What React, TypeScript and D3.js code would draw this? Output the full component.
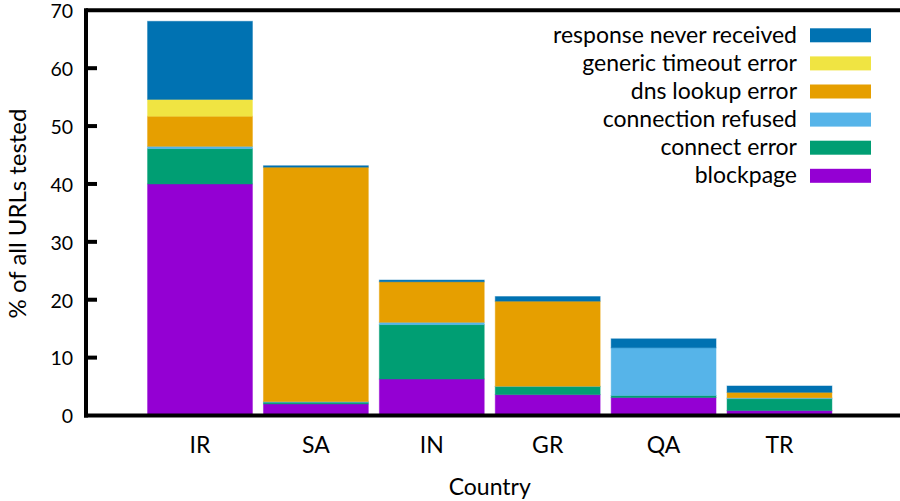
import React from "react";
import * as d3 from "d3";

const countries = ["IR", "SA", "IN", "GR", "QA", "TR"];
const seriesNames = [
  "blockpage",
  "connect error",
  "connection refused",
  "dns lookup error",
  "generic timeout error",
  "response never received",
];
const seriesColors = ["#9400d3", "#009e73", "#56b4e9", "#e69f00", "#f0e442", "#0072b2"];
const blockpage = [40.0, 2.0, 6.3, 3.6, 3.1, 0.85];
const connectError = [6.1, 0.3, 9.4, 1.4, 0.35, 2.05];
const connectionRefused = [0.4, 0.1, 0.4, 0.05, 8.25, 0.15];
const dnsLookupError = [5.2, 40.5, 7.0, 14.7, 0, 0.95];
const genericTimeout = [2.9, 0, 0, 0, 0, 0];
const responseNeverReceived = [13.5, 0.25, 0.3, 0.8, 1.55, 1.1];
const yTicks = [0, 10, 20, 30, 40, 50, 60, 70];

const FONT = "Lato, 'Open Sans', sans-serif";

export default function App() {
  const W = 900;
  const H = 501;
  const values = [blockpage, connectError, connectionRefused, dnsLookupError, genericTimeout, responseNeverReceived];
  const rows = countries.map((c, i) => {
    const r: any = { country: c };
    seriesNames.forEach((s, k) => (r[s] = values[k][i]));
    return r;
  });
  const stack = d3.stack<any>().keys(seriesNames);
  const stacked = stack(rows);

  const x = d3.scaleLinear().domain([-1, 6]).range([84.1, 895.4]);
  const y = d3.scaleLinear().domain([0, 70]).range([415.5, 10.3]);
  const step = x(1) - x(0);
  const bw = step * 0.905;
  const axisX = 86;

  return (
    <svg width={W} height={H} style={{ display: "block", position: "absolute", left: 0, top: 0 }} fontFamily={FONT}>
      <rect width={W} height={H} fill="#fff" />
      {stacked.map((layer, k) => (
        <g key={layer.key}>
          {layer.map((d, i) =>
            d[1] - d[0] > 0 ? (
              <rect
                key={i}
                x={x(i) - bw / 2}
                y={y(d[1])}
                width={bw}
                height={y(d[0]) - y(d[1])}
                fill={seriesColors[k]}
                stroke={seriesColors[k]}
                strokeOpacity={0.45}
                strokeWidth={1}
              />
            ) : null
          )}
        </g>
      ))}
      {/* axes */}
      <line x1={axisX} x2={W} y1={y(70)} y2={y(70)} stroke="#000" strokeWidth={4} />
      <line x1={axisX - 2} x2={W} y1={y(0)} y2={y(0)} stroke="#000" strokeWidth={4} />
      <line x1={axisX} x2={axisX} y1={y(70) - 2} y2={y(0) + 2} stroke="#000" strokeWidth={4} />
      {yTicks.map((t) => (
        <g key={t}>
          {t > 0 && t < 70 ? (
            <line x1={axisX} x2={axisX + 11} y1={y(t)} y2={y(t)} stroke="#000" strokeWidth={4} />
          ) : null}
          <text x={73} y={y(t) + 7.8} textAnchor="end" fontSize={19.5} fill="#000">
            {t}
          </text>
        </g>
      ))}
      {countries.map((c, i) => (
        <text key={c} x={x(i)} y={453.3} textAnchor="middle" fontSize={23} fill="#000">
          {c}
        </text>
      ))}
      <text x={(x(-1) + x(6)) / 2} y={495} textAnchor="middle" fontSize={23} fill="#000">
        Country
      </text>
      <text
        transform={`translate(25.5, ${213.5}) rotate(-90)`}
        textAnchor="middle"
        fontSize={24}
        fill="#000"
      >
        % of all URLs tested
      </text>
      {/* legend */}
      {seriesNames
        .slice()
        .reverse()
        .map((s, j) => {
          const k = seriesNames.length - 1 - j;
          const cy = 35.3 + j * 28.1;
          return (
            <g key={s}>
              <text x={797} y={cy + 7.6} textAnchor="end" fontSize={23} fill="#000">
                {s}
              </text>
              <rect x={810} y={cy - 7} width={61} height={14} fill={seriesColors[k]} />
            </g>
          );
        })}
    </svg>
  );
}
